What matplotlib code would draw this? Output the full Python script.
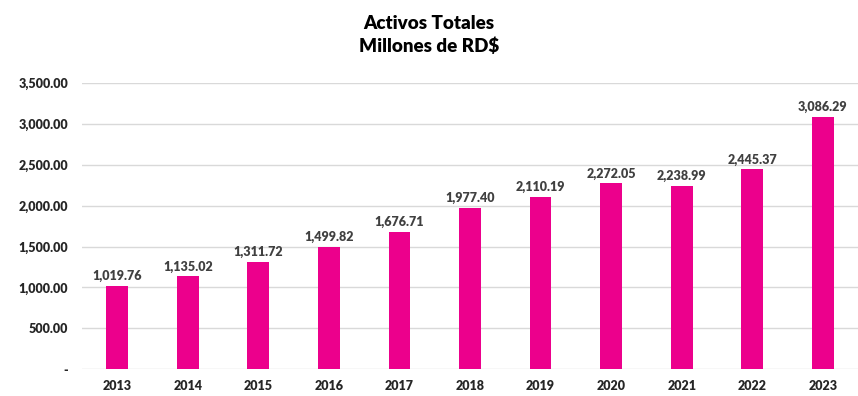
import numpy as np
from matplotlib import pyplot
from matplotlib.ticker import FuncFormatter

# data
years = ['2013', '2014', '2015', '2016', '2017', '2018', '2019', '2020', '2021', '2022', '2023']
activos = [1019.76, 1135.02, 1311.72, 1499.82, 1676.71, 1977.40, 2110.19, 2272.05, 2238.99, 2445.37, 3086.29]
y_ticks = [0, 500, 1000, 1500, 2000, 2500, 3000, 3500]

pyplot.rcParams['font.family'] = ['Lato', 'DejaVu Sans']

fig = pyplot.figure(figsize=(8.58, 3.96), dpi=100)
ax = fig.add_axes([0.0956, 0.068, 0.9044, 0.722])

x = np.arange(len(years))
bars = ax.bar(x, activos, width=0.31, color='#EC008C', zorder=3)

for xi, v in zip(x, activos):
  ax.text(xi, v + 45, '{:,.2f}'.format(v), ha='center', va='bottom',
          fontsize=9, fontweight='heavy', color='#404040')

ax.set_xlim(-0.5, len(years) - 0.5)
ax.set_ylim(0, 3500)
ax.set_yticks(y_ticks)
ax.yaxis.set_major_formatter(FuncFormatter(lambda v, p: '-' if v == 0 else '{:,.2f}'.format(v)))
ax.set_xticks(x)
ax.set_xticklabels(years)
ax.grid(axis='y', color='#D9D9D9', linewidth=1.0, zorder=0)
for s in ax.spines.values():
  s.set_visible(False)
ax.tick_params(length=0, labelsize=9, colors='#262626', pad=10)
ax.tick_params(axis='x', pad=8)
for lbl in ax.get_xticklabels() + ax.get_yticklabels():
  lbl.set_fontweight('heavy')

fig.text(0.5, 0.94, 'Activos Totales', ha='center', va='center', fontsize=13.5, fontweight='heavy')
fig.text(0.5, 0.882, 'Millones de RD$', ha='center', va='center', fontsize=13.5, fontweight='heavy')

pyplot.savefig('out.png', dpi=100)
pyplot.close()
